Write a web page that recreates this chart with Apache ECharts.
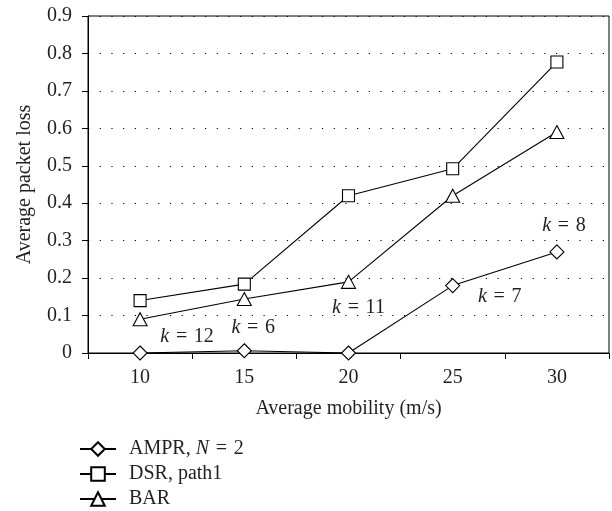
<!DOCTYPE html>
<html><head><meta charset="utf-8">
<script src="https://cdn.jsdelivr.net/npm/echarts@6/dist/echarts.min.js"></script>
<style>html,body{margin:0;padding:0;background:#fff}#c{width:612px;height:511px}</style>
</head><body><div id="c"></div>
<script>
const categories = ['10', '15', '20', '25', '30'];
const yTicks = [0, 0.1, 0.2, 0.3, 0.4, 0.5, 0.6, 0.7, 0.8, 0.9];
const amprValues = [0, 0.006, 0, 0.18, 0.27];
const dsrValues = [0.14, 0.184, 0.42, 0.492, 0.777];
const barValues = [0.09, 0.144, 0.19, 0.42, 0.59];
const kValues = [12, 6, 11, 7, 8];
const seriesNames = ['AMPR', 'DSR', 'BAR'];

const FONT = '"Liberation Serif", "DejaVu Serif", serif';
const TXT = '#231f20';
const FS = 20;
const SP = '\u2004';
const kOffsets = [[47, -16], [9, -23], [10, -45], [47, 11], [7, -26]];
const legendTops = [439, 464, 489];

const chart = echarts.init(document.getElementById('c'));
const symStyle = { color: '#fff', borderColor: '#000', borderWidth: 1.1 };
const lineStyle = { color: '#000', width: 1.1 };
const italic = { fontFamily: FONT, fontSize: FS, fontStyle: 'italic', color: TXT };

function legendFmt(name) {
  if (name === 'AMPR') return 'AMPR,' + ' {i|N}' + SP + '=' + SP + '2';
  if (name === 'DSR') return 'DSR, path1';
  return name;
}

chart.setOption({
  animation: false,
  backgroundColor: '#fff',
  grid: { left: 88, right: 3, top: 16, bottom: 158, show: true, borderColor: '#000', borderWidth: 1, backgroundColor: 'transparent' },
  xAxis: {
    type: 'category', data: categories, boundaryGap: true,
    name: 'Average mobility (m/s)', nameLocation: 'middle', nameGap: 46,
    nameTextStyle: { fontFamily: FONT, fontSize: FS, color: TXT },
    axisLine: { lineStyle: { color: '#000', width: 1 } },
    axisTick: { show: true, length: 6, inside: false, lineStyle: { color: '#000' } },
    axisLabel: { fontFamily: FONT, fontSize: FS, color: TXT, margin: 15 },
    splitLine: { show: false }
  },
  yAxis: {
    type: 'value', min: yTicks[0], max: yTicks[yTicks.length - 1], interval: 0.1,
    name: 'Average packet loss', nameLocation: 'middle', nameGap: 53,
    nameTextStyle: { fontFamily: FONT, fontSize: FS, color: TXT },
    axisLine: { show: true, lineStyle: { color: '#000', width: 1 } },
    axisTick: { show: true, length: 6, lineStyle: { color: '#000' } },
    axisLabel: { fontFamily: FONT, fontSize: FS, color: TXT, margin: 16,
      formatter: v => (Math.round(v * 10) / 10).toString() },
    splitLine: { show: true, lineStyle: { color: '#000', width: 1, type: [1.2, 10.5] } }
  },
  legend: seriesNames.map((n, i) => ({
    orient: 'vertical', left: 79, top: legendTops[i], padding: 0,
    itemWidth: 36, itemHeight: 17,
    textStyle: { fontFamily: FONT, fontSize: FS, color: TXT, padding: [0, 0, 0, 8], rich: { i: italic } },
    formatter: legendFmt,
    data: [n]
  })),
  series: [
    {
      name: 'AMPR', type: 'line', data: amprValues.map((v, i) => ({
        value: v,
        label: {
          show: true, position: 'inside', offset: kOffsets[i],
          formatter: '{i|k}' + SP + '=' + SP + kValues[i],
          fontFamily: FONT, fontSize: FS, color: TXT, rich: { i: italic }
        }
      })),
      symbol: 'diamond', symbolSize: [14, 14], showAllSymbol: true,
      itemStyle: symStyle, lineStyle: lineStyle, z: 3
    },
    {
      name: 'DSR', type: 'line', data: dsrValues,
      symbol: 'rect', symbolSize: 12, showAllSymbol: true,
      itemStyle: symStyle, lineStyle: lineStyle, z: 3
    },
    {
      name: 'BAR', type: 'line', data: barValues,
      symbol: 'triangle', symbolSize: [14, 13], showAllSymbol: true,
      itemStyle: symStyle, lineStyle: lineStyle, z: 3
    }
  ]
});
</script>
</body></html>
